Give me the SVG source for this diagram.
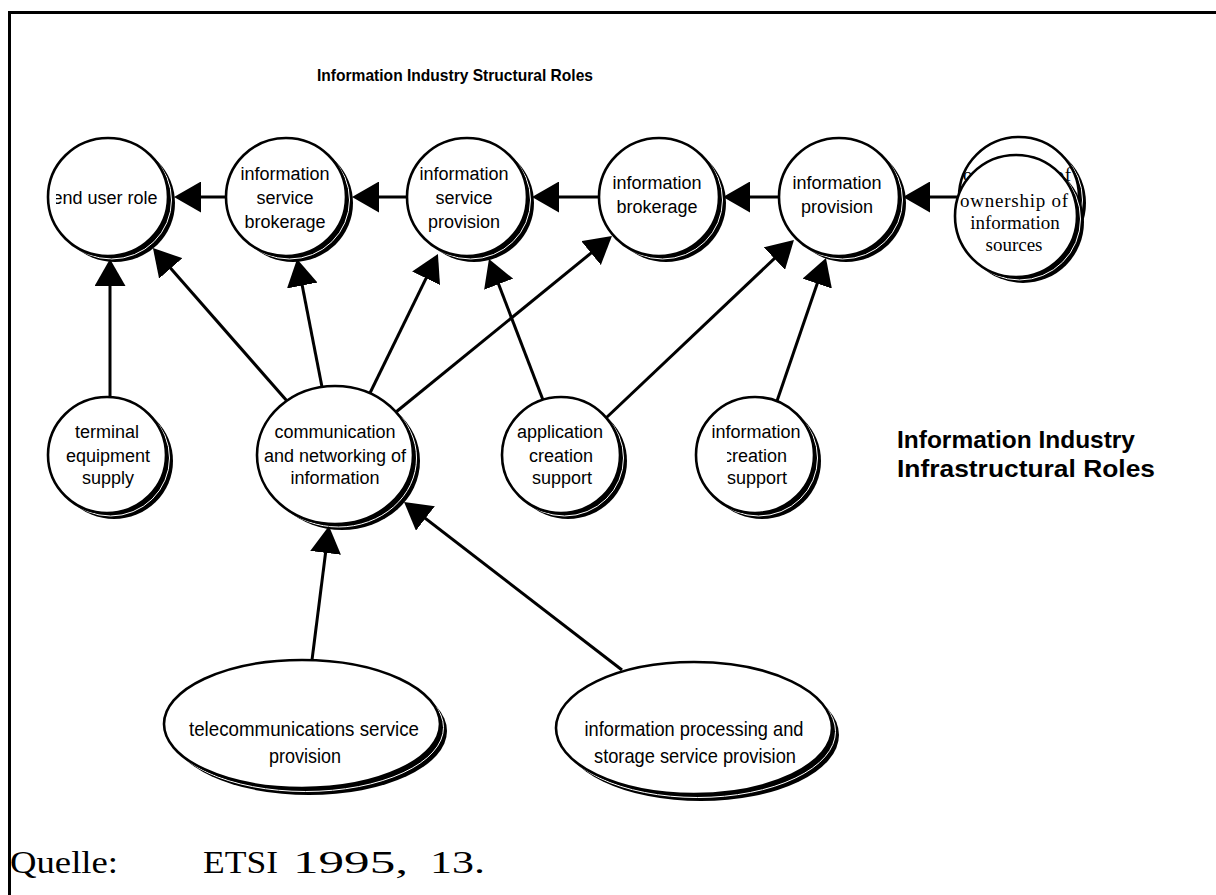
<svg xmlns="http://www.w3.org/2000/svg" width="1216" height="895" viewBox="0 0 1216 895">
<style>
.sh{fill:#000}
.ring{fill:none;stroke:#fff;stroke-width:1}
.nd{fill:#fff;stroke:#000;stroke-width:2.6}
.lbl{font-family:"Liberation Sans",Arial,Helvetica,sans-serif;font-size:18px;text-anchor:middle;fill:#000}
.big{font-family:"Liberation Sans",Arial,Helvetica,sans-serif;font-size:21px;text-anchor:middle;fill:#000}
.ser{font-family:"Liberation Serif","Times New Roman",serif;font-size:19px;text-anchor:middle;fill:#000}
.hd{font-family:"Liberation Sans",Arial,Helvetica,sans-serif;font-weight:bold;fill:#000}
.src{font-family:"Liberation Serif","Times New Roman",serif;font-size:31px;fill:#000}
.conn line{stroke:#000;stroke-width:3;marker-end:url(#ah)}
.frame{stroke:#000;stroke-width:3;fill:none}
</style>
<defs>
<marker id="ah" markerUnits="userSpaceOnUse" markerWidth="27" markerHeight="31" viewBox="0 0 27 31" refX="21" refY="15.5" orient="auto">
<path d="M0,0 L27,15.5 L0,31 Z" fill="#000"/>
</marker>
<clipPath id="clipEur"><rect x="56" y="150" width="120" height="100"/></clipPath>
<clipPath id="clipCr"><rect x="727" y="430" width="100" height="50"/></clipPath>
</defs>
<rect width="1216" height="895" fill="#fff"/>
<path class="frame" d="M9.5,895 L9.5,12.5 L1216,12.5"/>

<text class="hd" x="455" y="81" font-size="17" text-anchor="middle" textLength="276" lengthAdjust="spacingAndGlyphs">Information Industry Structural Roles</text>
<text class="hd" x="897" y="448" font-size="24" textLength="238" lengthAdjust="spacingAndGlyphs">Information Industry</text>
<text class="hd" x="897" y="477" font-size="24" textLength="258" lengthAdjust="spacingAndGlyphs">Infrastructural Roles</text>

<g id="n-eur">
<ellipse class="sh" cx="115" cy="203" rx="60" ry="59"/>
<ellipse class="ring" cx="111.5" cy="200" rx="60" ry="59"/>
<ellipse class="nd" cx="108" cy="197" rx="60" ry="59"/>
<text class="lbl" x="105" y="204" clip-path="url(#clipEur)">end user role</text>
</g>
<g id="n-isb">
<ellipse class="sh" cx="293" cy="203" rx="60" ry="59"/>
<ellipse class="ring" cx="289.5" cy="200" rx="60" ry="59"/>
<ellipse class="nd" cx="286" cy="197" rx="60" ry="59"/>
<text class="lbl" x="285" y="180">information</text>
<text class="lbl" x="285" y="204">service</text>
<text class="lbl" x="285" y="228">brokerage</text>
</g>
<g id="n-isp">
<ellipse class="sh" cx="474" cy="203" rx="60" ry="59"/>
<ellipse class="ring" cx="470.5" cy="200" rx="60" ry="59"/>
<ellipse class="nd" cx="467" cy="197" rx="60" ry="59"/>
<text class="lbl" x="464" y="180">information</text>
<text class="lbl" x="464" y="204">service</text>
<text class="lbl" x="464" y="228">provision</text>
</g>
<g id="n-ib">
<ellipse class="sh" cx="666" cy="203" rx="60" ry="59"/>
<ellipse class="ring" cx="662.5" cy="200" rx="60" ry="59"/>
<ellipse class="nd" cx="659" cy="197" rx="60" ry="59"/>
<text class="lbl" x="657" y="189">information</text>
<text class="lbl" x="657" y="213">brokerage</text>
</g>
<g id="n-ip">
<ellipse class="sh" cx="846" cy="203" rx="60" ry="59"/>
<ellipse class="ring" cx="842.5" cy="200" rx="60" ry="59"/>
<ellipse class="nd" cx="839" cy="197" rx="60" ry="59"/>
<text class="lbl" x="837" y="189">information</text>
<text class="lbl" x="837" y="213">provision</text>
</g>
<g id="n-own">
<ellipse class="sh" cx="1026" cy="203" rx="60" ry="60"/>
<ellipse class="ring" cx="1022.5" cy="200" rx="60" ry="60"/>
<ellipse class="nd" cx="1019" cy="197" rx="60" ry="60"/>
<text class="ser" x="1017" y="181" textLength="108" lengthAdjust="spacing">ownership of</text>
<ellipse class="sh" cx="1023" cy="222" rx="61" ry="61"/>
<ellipse class="ring" cx="1019.5" cy="219" rx="61" ry="61"/>
<ellipse class="nd" cx="1016" cy="216" rx="61" ry="61"/>
<text class="ser" x="1014" y="207" textLength="108" lengthAdjust="spacing">ownership of</text>
<text class="ser" x="1015" y="229">information</text>
<text class="ser" x="1014" y="251">sources</text>
</g>

<g id="n-term">
<ellipse class="sh" cx="114" cy="461" rx="59" ry="58"/>
<ellipse class="ring" cx="110.5" cy="458" rx="59" ry="58"/>
<ellipse class="nd" cx="107" cy="455" rx="59" ry="58"/>
<text class="lbl" x="107" y="438">terminal</text>
<text class="lbl" x="108" y="462">equipment</text>
<text class="lbl" x="108" y="484">supply</text>
</g>
<g id="n-comm">
<ellipse class="sh" cx="342" cy="461" rx="78" ry="69"/>
<ellipse class="ring" cx="338.5" cy="458" rx="78" ry="69"/>
<ellipse class="nd" cx="335" cy="455" rx="78" ry="69"/>
<text class="lbl" x="335" y="438">communication</text>
<text class="lbl" x="335" y="462">and networking of</text>
<text class="lbl" x="335" y="484">information</text>
</g>
<g id="n-app">
<ellipse class="sh" cx="568" cy="461" rx="59" ry="58"/>
<ellipse class="ring" cx="564.5" cy="458" rx="59" ry="58"/>
<ellipse class="nd" cx="561" cy="455" rx="59" ry="58"/>
<text class="lbl" x="560" y="438">application</text>
<text class="lbl" x="561" y="462">creation</text>
<text class="lbl" x="562" y="484">support</text>
</g>
<g id="n-icr">
<ellipse class="sh" cx="762" cy="461" rx="59" ry="58"/>
<ellipse class="ring" cx="758.5" cy="458" rx="59" ry="58"/>
<ellipse class="nd" cx="755" cy="455" rx="59" ry="58"/>
<text class="lbl" x="756" y="438">information</text>
<text class="lbl" x="755" y="462" clip-path="url(#clipCr)">creation</text>
<text class="lbl" x="757" y="484">support</text>
</g>

<g id="n-tel">
<ellipse class="sh" cx="309" cy="731" rx="138" ry="64"/>
<ellipse class="ring" cx="305.5" cy="727.5" rx="138" ry="64"/>
<ellipse class="nd" cx="302" cy="724" rx="138" ry="64"/>
<text class="big" x="304" y="736" textLength="230" lengthAdjust="spacingAndGlyphs">telecommunications service</text>
<text class="big" x="305" y="763" textLength="72" lengthAdjust="spacingAndGlyphs">provision</text>
</g>
<g id="n-ips">
<ellipse class="sh" cx="701" cy="735" rx="138" ry="66"/>
<ellipse class="ring" cx="697.5" cy="731.5" rx="138" ry="66"/>
<ellipse class="nd" cx="694" cy="728" rx="138" ry="66"/>
<text class="big" x="694" y="736" textLength="219" lengthAdjust="spacingAndGlyphs">information processing and</text>
<text class="big" x="695" y="763" textLength="202" lengthAdjust="spacingAndGlyphs">storage service provision</text>
</g>

<g id="connectors" class="conn">
<line x1="226" y1="197" x2="180" y2="197"/>
<line x1="407" y1="197" x2="358" y2="197"/>
<line x1="599" y1="197" x2="538" y2="197"/>
<line x1="779" y1="197" x2="729" y2="197"/>
<line x1="958" y1="197" x2="909" y2="197"/>
<line x1="110" y1="397" x2="110" y2="265"/>
<line x1="287" y1="401" x2="156.9" y2="252.6"/>
<line x1="322" y1="387" x2="298.2" y2="264.9"/>
<line x1="370" y1="393" x2="435.3" y2="259.4"/>
<line x1="396" y1="412" x2="607.3" y2="239.8"/>
<line x1="543" y1="400" x2="491.1" y2="264.6"/>
<line x1="606" y1="418" x2="789.6" y2="244.1"/>
<line x1="777" y1="401" x2="824" y2="263.7"/>
<line x1="312" y1="660" x2="328.2" y2="532"/>
<line x1="622" y1="670" x2="408.8" y2="505.6"/>
</g>

<text class="src" x="10" y="873" textLength="108" lengthAdjust="spacingAndGlyphs">Quelle:</text>
<text class="src" x="203" y="873" textLength="75" lengthAdjust="spacingAndGlyphs">ETSI</text>
<text class="src" x="293" y="873" textLength="115" lengthAdjust="spacingAndGlyphs">1995,</text>
<text class="src" x="430" y="873" textLength="55" lengthAdjust="spacingAndGlyphs">13.</text>
</svg>
